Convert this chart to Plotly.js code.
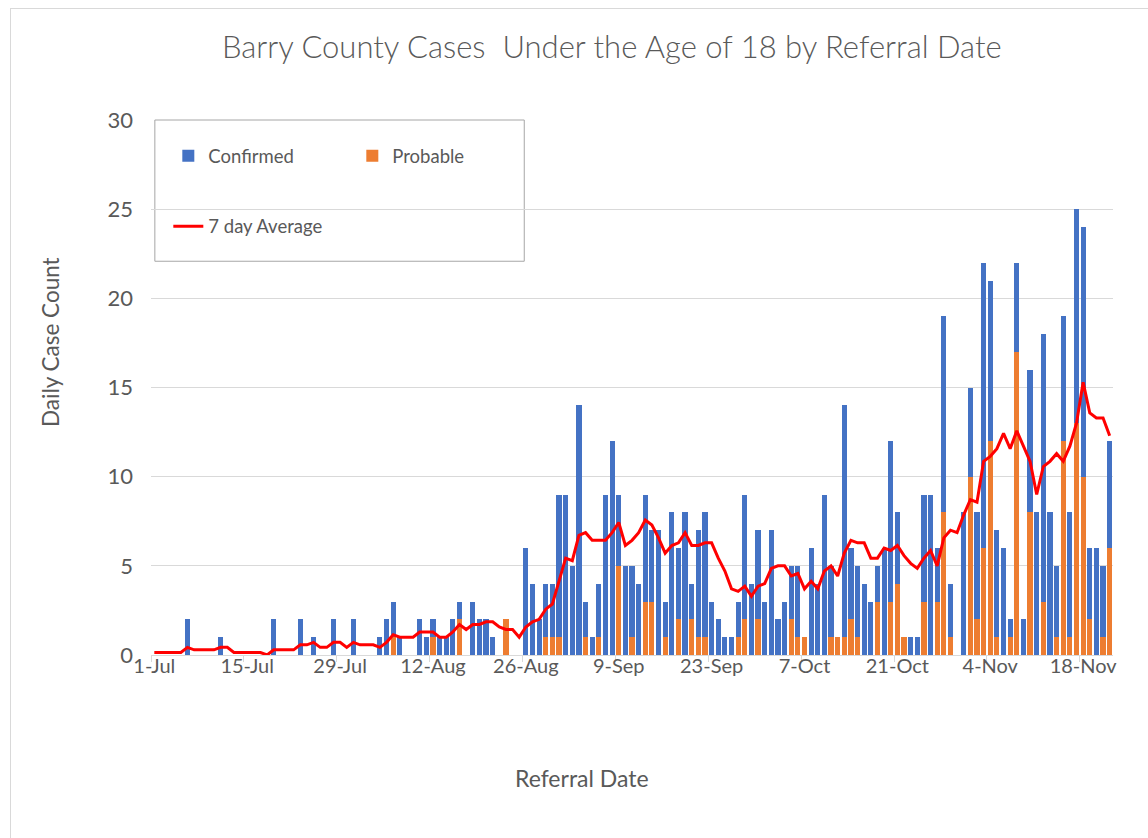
<!DOCTYPE html>
<html><head><meta charset="utf-8">
<script src="https://cdn.plot.ly/plotly-3.0.1.min.js"></script>
<style>
html,body{margin:0;padding:0;background:#fff;overflow:hidden;}
#chart{position:absolute;left:0;top:0;width:1148px;height:838px;}
#frame{position:absolute;left:10px;top:8px;width:1160px;height:860px;border:1px solid #d9d9d9;box-sizing:border-box;pointer-events:none;}
</style>
</head><body>
<div id="chart"></div><div id="frame"></div>
<script>
// Referral dates, 1-Jul-2020 .. 22-Nov-2020
const dates = [
'2020-07-01','2020-07-02','2020-07-03','2020-07-04','2020-07-05','2020-07-06','2020-07-07','2020-07-08','2020-07-09','2020-07-10',
'2020-07-11','2020-07-12','2020-07-13','2020-07-14','2020-07-15','2020-07-16','2020-07-17','2020-07-18','2020-07-19','2020-07-20',
'2020-07-21','2020-07-22','2020-07-23','2020-07-24','2020-07-25','2020-07-26','2020-07-27','2020-07-28','2020-07-29','2020-07-30','2020-07-31',
'2020-08-01','2020-08-02','2020-08-03','2020-08-04','2020-08-05','2020-08-06','2020-08-07','2020-08-08','2020-08-09','2020-08-10',
'2020-08-11','2020-08-12','2020-08-13','2020-08-14','2020-08-15','2020-08-16','2020-08-17','2020-08-18','2020-08-19','2020-08-20',
'2020-08-21','2020-08-22','2020-08-23','2020-08-24','2020-08-25','2020-08-26','2020-08-27','2020-08-28','2020-08-29','2020-08-30','2020-08-31',
'2020-09-01','2020-09-02','2020-09-03','2020-09-04','2020-09-05','2020-09-06','2020-09-07','2020-09-08','2020-09-09','2020-09-10',
'2020-09-11','2020-09-12','2020-09-13','2020-09-14','2020-09-15','2020-09-16','2020-09-17','2020-09-18','2020-09-19','2020-09-20',
'2020-09-21','2020-09-22','2020-09-23','2020-09-24','2020-09-25','2020-09-26','2020-09-27','2020-09-28','2020-09-29','2020-09-30',
'2020-10-01','2020-10-02','2020-10-03','2020-10-04','2020-10-05','2020-10-06','2020-10-07','2020-10-08','2020-10-09','2020-10-10',
'2020-10-11','2020-10-12','2020-10-13','2020-10-14','2020-10-15','2020-10-16','2020-10-17','2020-10-18','2020-10-19','2020-10-20',
'2020-10-21','2020-10-22','2020-10-23','2020-10-24','2020-10-25','2020-10-26','2020-10-27','2020-10-28','2020-10-29','2020-10-30','2020-10-31',
'2020-11-01','2020-11-02','2020-11-03','2020-11-04','2020-11-05','2020-11-06','2020-11-07','2020-11-08','2020-11-09','2020-11-10',
'2020-11-11','2020-11-12','2020-11-13','2020-11-14','2020-11-15','2020-11-16','2020-11-17','2020-11-18','2020-11-19','2020-11-20',
'2020-11-21','2020-11-22'
];

// Confirmed daily cases (blue)
const confirmed = [
0,0,0,0,0,2,0,0,0,0, 1,0,0,0,0,0,0,0,2,0, 0,0,2,0,1,0,0,2,0,0,2,
0,0,0,1,2,2,1,0,0,2, 1,1,1,1,2,1,0,3,2,2, 1,0,0,0,0,6,4,2,3,3,8,
9,5,14,2,1,3,9,12,4,5, 4,4,6,4,7,2,8,4,8,2, 6,7,3,2,1,1,2,7,4,5,
3,7,2,3,3,4,0,6,4,9, 4,0,13,4,4,4,3,2,6,9, 4,0,1,1,6,9,3,11,3,0,8,
5,6,16,9,6,6,1,5,2,8, 8,15,8,4,7,7,12,14,4,6, 4,6
];

// Probable daily cases (orange)
const probable = [
0,0,0,0,0,0,0,0,0,0, 0,0,0,0,0,0,0,0,0,0, 0,0,0,0,0,0,0,0,0,0,0,
0,0,0,0,0,1,0,0,0,0, 0,1,0,0,0,2,0,0,0,0, 0,0,2,0,0,0,0,0,1,1,1,
0,0,0,1,0,1,0,0,5,0, 1,0,3,3,0,1,0,2,0,2, 1,1,0,0,0,0,1,2,0,2,
0,0,0,0,2,1,1,0,0,0, 1,1,1,2,1,0,0,3,0,3, 4,1,0,0,3,0,3,8,1,0,0,
10,2,6,12,1,0,1,17,0,8, 0,3,0,1,12,1,13,10,2,0, 1,6
];

// 7 day average (red line)
const avg7 = [
0.14,0.14,0.14,0.14,0.14,0.43,0.29,0.29,0.29,0.29, 0.43,0.43,0.14,0.14,0.14,0.14,0.14,0,0.29,0.29,
0.29,0.29,0.57,0.57,0.71,0.43,0.43,0.71,0.71,0.43,0.71,
0.57,0.57,0.57,0.43,0.71,1.14,1.0,1.0,1.0,1.29, 1.29,1.29,1.0,1.0,1.29,1.71,1.43,1.71,1.71,1.86,
1.86,1.57,1.43,1.43,1.0,1.57,1.86,2.0,2.57,2.86,4.14,
5.43,5.29,6.71,6.86,6.43,6.43,6.43,6.86,7.43,6.14, 6.43,6.86,7.57,7.29,6.57,5.71,6.14,6.29,6.86,6.14,
6.14,6.29,6.29,5.43,4.71,3.71,3.57,3.86,3.29,3.86,
4.0,4.86,5.0,5.0,4.43,4.57,3.71,4.14,3.71,4.71, 5.0,4.43,5.71,6.43,6.29,6.29,5.43,5.43,6.0,5.86,
6.14,5.57,5.14,4.86,5.43,5.86,5.0,6.57,7.0,6.86,7.86,
8.71,8.57,10.86,11.14,11.57,12.43,11.57,12.57,11.71,10.86, 9.0,10.57,10.86,11.29,10.86,11.71,13.0,15.29,13.57,13.29,
13.29,12.29
];

const tickDates = ['2020-07-01','2020-07-15','2020-07-29','2020-08-12','2020-08-26','2020-09-09','2020-09-23','2020-10-07','2020-10-21','2020-11-04','2020-11-18'];
const tickLabels = ['1-Jul','15-Jul','29-Jul','12-Aug','26-Aug','9-Sep','23-Sep','7-Oct','21-Oct','4-Nov','18-Nov'];

const FONT = 'Lato, "Open Sans", sans-serif';
const GREY = '#595959';

const traces = [
  {type:'bar', name:'Probable', x:dates, y:probable, marker:{color:'#ED7D31'}, legend:'legend', legendrank:2},
  {type:'bar', name:'Confirmed', x:dates, y:confirmed, marker:{color:'#4472C4'}, legend:'legend', legendrank:1},
  {type:'scatter', mode:'lines', name:'7 day Average', x:dates, y:avg7, line:{color:'#FF0000', width:3}, legend:'legend2'}
];

const layout = {
  width:1148, height:838,
  margin:{l:151, r:35, t:120, b:183},
  paper_bgcolor:'#ffffff', plot_bgcolor:'#ffffff',
  barmode:'stack', bargap:0.22,
  font:{family:FONT, color:GREY},
  title:{text:'Barry County Cases\u00a0 Under the Age of 18 by Referral Date',
         font:{family:FONT, size:31, color:GREY, weight:300},
         xref:'paper', x:0.479, xanchor:'center', yref:'container', y:0.944, yanchor:'middle'},
  xaxis:{type:'date', range:['2020-06-30 12:00','2020-11-22 12:00'],
         tickmode:'array', tickvals:tickDates, ticktext:tickLabels, ticks:'', ticklabelstandoff:-7,
         tickfont:{size:20, color:GREY, family:FONT},
         showgrid:false, showline:true, linecolor:'#d9d9d9', linewidth:1, zeroline:false,
         minor:{ticks:'outside', ticklen:6, tickcolor:'#d9d9d9', tickwidth:1, tick0:'2020-06-30 12:00', dtick:14*86400000, showgrid:false}},
  yaxis:{range:[0,30], tick0:0, dtick:5, showgrid:true, gridcolor:'#d9d9d9', gridwidth:1,
         zeroline:false, showline:false, ticks:'', ticklabelstandoff:17,
         tickfont:{size:22, color:GREY, family:FONT}},
  showlegend:true,
  legend:{orientation:'h', x:0.018, xanchor:'left', y:0.968, yanchor:'top', traceorder:'normal',
          bgcolor:'rgba(0,0,0,0)', borderwidth:0, font:{size:18.5, color:GREY, family:FONT}, entrywidth:139},
  legend2:{orientation:'h', x:0.018, xanchor:'left', y:0.836, yanchor:'top',
          bgcolor:'rgba(0,0,0,0)', borderwidth:0, font:{size:18.5, color:GREY, family:FONT}},
  shapes:[{type:'rect', xref:'paper', yref:'paper', x0:0.004, x1:0.388, y0:0.736, y1:1.0,
           line:{color:'#a6a6a6', width:1}, fillcolor:'rgba(255,255,255,1)', layer:'below'}],
  annotations:[
    {text:'Daily Case Count', xref:'paper', yref:'paper', x:-0.105, y:0.585, textangle:-90, showarrow:false,
     xanchor:'center', yanchor:'middle', font:{size:22.5, color:GREY, family:FONT}},
    {text:'Referral Date', xref:'paper', yref:'paper', x:0.448, y:-0.23, showarrow:false,
     xanchor:'center', yanchor:'middle', font:{size:23, color:GREY, family:FONT}}
  ]
};

Plotly.newPlot('chart', traces, layout, {displayModeBar:false, staticPlot:true});
</script>
</body></html>
